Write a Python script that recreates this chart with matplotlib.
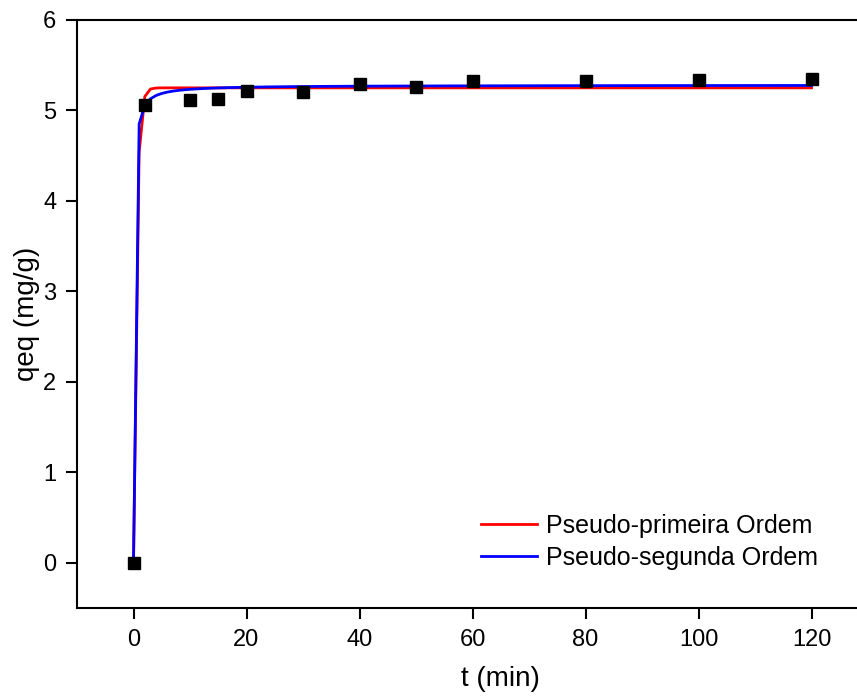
import matplotlib.pyplot as plt
import numpy as np

plt.rcParams['font.family'] = ['Liberation Sans', 'DejaVu Sans']

# experimental points
t_exp = [0, 2, 10, 15, 20, 30, 40, 50, 60, 80, 100, 120]
q_exp = [0.0, 5.06, 5.12, 5.13, 5.22, 5.20, 5.29, 5.26, 5.33, 5.33, 5.34, 5.35]

# fitted model parameters
qe1, k1 = 5.25, 2.0      # pseudo-primeira ordem
qe2, k2 = 5.28, 2.14     # pseudo-segunda ordem

t_fit = np.arange(0, 121, 1.0)
q_pfo = qe1 * (1 - np.exp(-k1 * t_fit))
q_pso = qe2**2 * k2 * t_fit / (1 + qe2 * k2 * t_fit)

fig = plt.figure(figsize=(8.57, 6.97), dpi=100)
ax = fig.add_axes([77/857, 1 - 608/697, 847.5/857, 588/697])

ax.plot(t_fit, q_pfo, color='red', lw=2, label='Pseudo-primeira Ordem', zorder=2)
ax.plot(t_fit, q_pso, color='blue', lw=2, label='Pseudo-segunda Ordem', zorder=3)
ax.plot(t_exp, q_exp, 's', color='black', ms=9, zorder=4)

ax.set_xlim(-10, 140)
ax.set_ylim(-0.5, 6)
ax.set_xticks([0, 20, 40, 60, 80, 100, 120])
ax.set_yticks([0, 1, 2, 3, 4, 5, 6])
ax.spines['right'].set_visible(False)
for s in ['left', 'bottom', 'top']:
    ax.spines[s].set_linewidth(1.5)
ax.tick_params(direction='out', length=8, width=1.5, labelsize=17, pad=7)

ax.set_xlabel('t (min)', fontsize=20, labelpad=11)
ax.set_ylabel('qeq (mg/g)', fontsize=20, labelpad=2)

ax.legend(loc='upper left', bbox_to_anchor=(481/857, 1 - 514/697),
          bbox_transform=fig.transFigure, frameon=False, fontsize=18,
          borderpad=0, borderaxespad=0,
          handlelength=2.25, handletextpad=0.33, labelspacing=0.3)

fig.savefig('out.png', dpi=100)
